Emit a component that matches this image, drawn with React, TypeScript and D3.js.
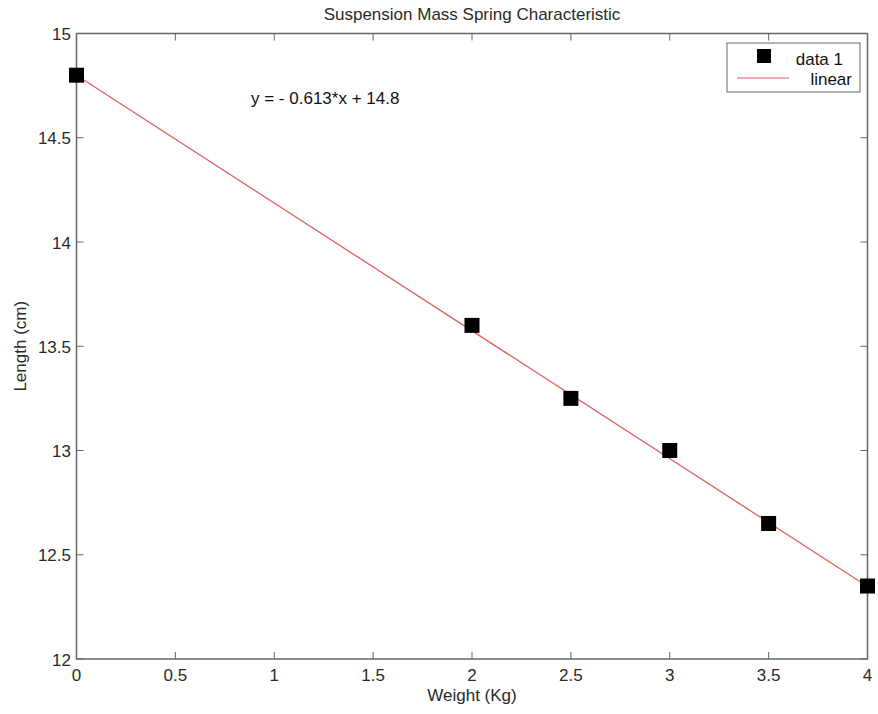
import React from "react";
import * as d3 from "d3";

const weights = [0, 2, 2.5, 3, 3.5, 4];
const lengths = [14.8, 13.6, 13.25, 13.0, 12.65, 12.35];
const fitSlope = -0.613;
const fitIntercept = 14.8;
const xTicks = [0, 0.5, 1, 1.5, 2, 2.5, 3, 3.5, 4];
const yTicks = [12, 12.5, 13, 13.5, 14, 14.5, 15];
const title = "Suspension Mass Spring Characteristic";
const xLabel = "Weight (Kg)";
const yLabel = "Length (cm)";
const equation = "y = - 0.613*x + 14.8";
const legendLabels = ["data 1", "linear"];

const W = 878, H = 714;
const L = 76.5, R = 867.5, T = 33.5, B = 659;
const font = "Liberation Sans, Arial, sans-serif";
const axisColor = "#666";
const textColor = "#2a2a2a";
const fs = 17;

export default function App() {
  const x = d3.scaleLinear().domain([0, 4]).range([L, R]);
  const y = d3.scaleLinear().domain([12, 15]).range([B, T]);
  const fitLine = d3.line<number>().x((d) => x(d)).y((d) => y(fitSlope * d + fitIntercept));
  const ms = 15;
  const tl = 7;
  return (
    <svg width={W} height={H} style={{ position: "absolute", left: 0, top: 0, background: "#fff" }}>
      <rect x={0} y={0} width={W} height={H} fill="#fff" />
      <text x={472} y={20} textAnchor="middle" fontFamily={font} fontSize={fs} fill={textColor}>{title}</text>
      <rect x={L} y={T} width={R - L} height={B - T} fill="none" stroke={axisColor} strokeWidth={1.5} />
      {xTicks.map((t) => (
        <g key={"x" + t}>
          <line x1={x(t)} x2={x(t)} y1={B} y2={B - tl} stroke={axisColor} strokeWidth={1} />
          <line x1={x(t)} x2={x(t)} y1={T} y2={T + tl} stroke={axisColor} strokeWidth={1} />
          <text x={x(t)} y={681} textAnchor="middle" fontFamily={font} fontSize={fs} fill={textColor}>{String(t)}</text>
        </g>
      ))}
      {yTicks.map((t) => (
        <g key={"y" + t}>
          <line x1={L} x2={L + tl} y1={y(t)} y2={y(t)} stroke={axisColor} strokeWidth={1} />
          <line x1={R} x2={R - tl} y1={y(t)} y2={y(t)} stroke={axisColor} strokeWidth={1} />
          <text x={71} y={y(t) + 6.5} textAnchor="end" fontFamily={font} fontSize={fs} fill={textColor}>{String(t)}</text>
        </g>
      ))}
      <text x={472} y={701} textAnchor="middle" fontFamily={font} fontSize={fs} fill={textColor}>{xLabel}</text>
      <text transform={`translate(26,${(T + B) / 2}) rotate(-90)`} textAnchor="middle" fontFamily={font} fontSize={fs} fill={textColor}>{yLabel}</text>
      <path d={fitLine([0, 4]) || ""} fill="none" stroke="#e06060" strokeWidth={1.3} />
      {weights.map((w, i) => (
        <rect key={i} x={x(w) - ms / 2} y={y(lengths[i]) - ms / 2} width={ms} height={ms} fill="#000" />
      ))}
      <text x={251} y={104} fontFamily={font} fontSize={fs} fill="#111">{equation}</text>
      <rect x={727} y={43} width={133} height={49} fill="#fff" stroke={axisColor} strokeWidth={1} />
      <rect x={764 - 7} y={56 - 7} width={14} height={14} fill="#000" />
      <text x={843} y={65} textAnchor="end" fontFamily={font} fontSize={fs} fill="#111">{legendLabels[0]}</text>
      <line x1={737} x2={789} y1={78} y2={78} stroke="#e89090" strokeWidth={1.3} />
      <text x={852} y={85} textAnchor="end" fontFamily={font} fontSize={fs} fill="#111">{legendLabels[1]}</text>
    </svg>
  );
}
